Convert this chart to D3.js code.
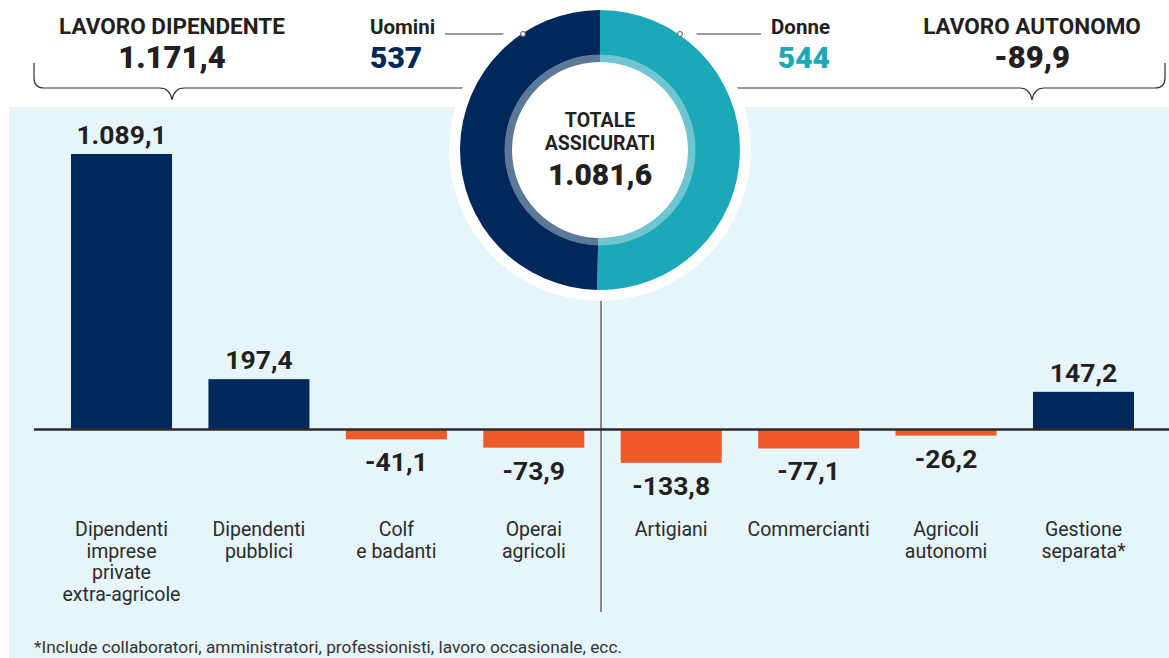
<!DOCTYPE html>
<html>
<head>
<meta charset="utf-8">
<script src="https://cdn.jsdelivr.net/npm/d3@7"></script>
<style>
  body { margin: 0; background: #fff; }
  svg text { font-family: Roboto, "Noto Sans", sans-serif; }
</style>
</head>
<body>
<div class="graph"></div>
<script>
// categorie e valori (migliaia)
var categorie = [
  "Dipendenti\nimprese\nprivate\nextra-agricole",
  "Dipendenti\npubblici",
  "Colf\ne badanti",
  "Operai\nagricoli",
  "Artigiani",
  "Commercianti",
  "Agricoli\nautonomi",
  "Gestione\nseparata*"
];
var valori = [1089.1, 197.4, -41.1, -73.9, -133.8, -77.1, -26.2, 147.2];
var etichette = ["1.089,1", "197,4", "-41,1", "-73,9", "-133,8", "-77,1", "-26,2", "147,2"];

var generi = ["Donne", "Uomini"];
var generiValori = [544, 537];
var generiEtichette = ["544", "537"];

var gruppi = ["LAVORO DIPENDENTE", "LAVORO AUTONOMO"];
var gruppiEtichette = ["1.171,4", "-89,9"];
var totaleEtichetta = "1.081,6";
var nota = "*Include collaboratori, amministratori, professionisti, lavoro occasionale, ecc.";

var width = 1169, height = 658;
var navy = "#00285a", teal = "#1ba8b9", orange = "#f0592a", ink = "#231f20";

var svg = d3.select(".graph")
  .append("svg")
  .attr("width", width)
  .attr("height", height);

// pannello azzurro
svg.append("rect")
  .attr("x", 9).attr("y", 107)
  .attr("width", width - 9).attr("height", height - 107)
  .style("fill", "#e6f5f9");

var x = d3.scaleBand()
  .domain(categorie)
  .range([52.8, 1152.2])
  .paddingInner(0.265)
  .paddingOuter(0.1325);

var y = d3.scaleLinear()
  .domain([0, 1089.1])
  .range([429, 154]);

// linea verticale di separazione
svg.append("line")
  .attr("x1", 601).attr("x2", 601)
  .attr("y1", 290).attr("y2", 612)
  .style("stroke", "#888")
  .style("stroke-width", 2);

// parentesi graffe
svg.append("path")
  .attr("d", "M34,63 V78 Q34,88 44,88 H160 Q170,88 172,100 Q174,88 184,88 H470")
  .style("fill", "none").style("stroke", "#333").style("stroke-width", 1.2);
svg.append("path")
  .attr("d", "M730,88 H1020 Q1030,88 1032,100 Q1034,88 1044,88 H1155 Q1165,88 1165,78 V63")
  .style("fill", "none").style("stroke", "#333").style("stroke-width", 1.2);

// linee di richiamo
svg.append("line").attr("x1", 445).attr("x2", 523).attr("y1", 34).attr("y2", 34)
  .style("stroke", "#333").style("stroke-width", 1);
svg.append("line").attr("x1", 680).attr("x2", 761).attr("y1", 34).attr("y2", 34)
  .style("stroke", "#333").style("stroke-width", 1);

// barre
svg.selectAll("rect.bar")
  .data(valori)
  .enter()
  .append("rect")
  .attr("class", "bar")
  .attr("x", function(d, i) { return x(categorie[i]); })
  .attr("y", function(d) { return Math.min(y(d), y(0)); })
  .attr("width", x.bandwidth())
  .attr("height", function(d) { return Math.abs(y(d) - y(0)); })
  .style("fill", function(d) { return d >= 0 ? navy : orange; });

// asse zero
svg.append("line")
  .attr("x1", 34).attr("x2", width)
  .attr("y1", y(0) + 0.5).attr("y2", y(0) + 0.5)
  .style("stroke", "#2a2a2a")
  .style("stroke-width", 2.5);

// etichette valori
svg.selectAll("text.val")
  .data(valori)
  .enter()
  .append("text")
  .attr("class", "val")
  .attr("x", function(d, i) { return x(categorie[i]) + x.bandwidth() / 2; })
  .attr("y", function(d) { return d >= 0 ? y(d) - 10 : y(d) + 32; })
  .attr("text-anchor", "middle")
  .attr("font-size", "26.5px")
  .attr("font-weight", "bold")
  .attr("fill", ink)
  .text(function(d, i) { return etichette[i]; });

// etichette categorie
svg.selectAll("text.cat")
  .data(categorie)
  .enter()
  .append("text")
  .attr("class", "cat")
  .attr("text-anchor", "middle")
  .attr("font-size", "19.5px")
  .attr("fill", "#2b2b2b")
  .each(function(d) {
    var text = d3.select(this),
        cx = x(d) + x.bandwidth() / 2;
    d.split(/\n/).forEach(function(line, i) {
      text.append("tspan")
        .attr("x", cx)
        .attr("y", 536 + i * 21.7)
        .text(line);
    });
  });

// nota
svg.append("text")
  .attr("x", 34).attr("y", 653)
  .attr("font-size", "17.3px")
  .attr("fill", "#333")
  .text(nota);

// ciambella
var cx = 600, cy = 150;
var g = svg.append("g").attr("transform", "translate(" + cx + "," + cy + ")");
g.append("circle").attr("r", 151).style("fill", "#fff");

var pie = d3.pie().sort(null).value(function(d) { return d; });
var arcs = pie(generiValori);
var arcOuter = d3.arc().innerRadius(95).outerRadius(140);
var arcInner = d3.arc().innerRadius(88).outerRadius(95.5);
var coloriOuter = [teal, navy], coloriInner = ["#6fc6d1", "#5e7899"];

g.selectAll("path.outer")
  .data(arcs)
  .enter()
  .append("path")
  .attr("d", arcOuter)
  .style("fill", function(d, i) { return coloriOuter[i]; });
g.selectAll("path.inner")
  .data(arcs)
  .enter()
  .append("path")
  .attr("d", arcInner)
  .style("fill", function(d, i) { return coloriInner[i]; });

// pallini richiamo
svg.append("circle").attr("cx", 523).attr("cy", 34).attr("r", 2.5)
  .style("fill", "#fff").style("stroke", "#555").style("stroke-width", 1);
svg.append("circle").attr("cx", 680).attr("cy", 34).attr("r", 2.5)
  .style("fill", "#fff").style("stroke", "#555").style("stroke-width", 1);

// testo centrale
g.append("text").attr("y", -23).attr("text-anchor", "middle")
  .attr("font-size", "19.5px").attr("font-weight", "bold").attr("fill", ink)
  .text("TOTALE");
g.append("text").attr("y", 0).attr("text-anchor", "middle")
  .attr("font-size", "19.5px").attr("font-weight", "bold").attr("fill", ink)
  .text("ASSICURATI");
g.append("text").attr("y", 35).attr("text-anchor", "middle")
  .attr("font-size", "30px").attr("font-weight", 900).attr("fill", ink)
  .text(totaleEtichetta);

// titoli in alto
var titoliX = [172, 1032];
gruppi.forEach(function(t, i) {
  svg.append("text")
    .attr("x", titoliX[i]).attr("y", 34)
    .attr("text-anchor", "middle")
    .attr("font-size", "22.5px").attr("font-weight", "bold").attr("fill", ink)
    .text(t);
  svg.append("text")
    .attr("x", titoliX[i]).attr("y", 68)
    .attr("text-anchor", "middle")
    .attr("font-size", "31px").attr("font-weight", 900).attr("fill", ink)
    .text(gruppiEtichette[i]);
});

// uomini / donne
var genX = [830, 370], genAnchor = ["end", "start"], genCol = [teal, navy];
generi.forEach(function(t, i) {
  svg.append("text")
    .attr("x", genX[i]).attr("y", 34)
    .attr("text-anchor", genAnchor[i])
    .attr("font-size", "20.5px").attr("font-weight", "bold").attr("fill", ink)
    .text(t);
  svg.append("text")
    .attr("x", genX[i]).attr("y", 68)
    .attr("text-anchor", genAnchor[i])
    .attr("font-size", "30px").attr("font-weight", 900).attr("fill", genCol[i])
    .text(generiEtichette[i]);
});
</script>
</body>
</html>
